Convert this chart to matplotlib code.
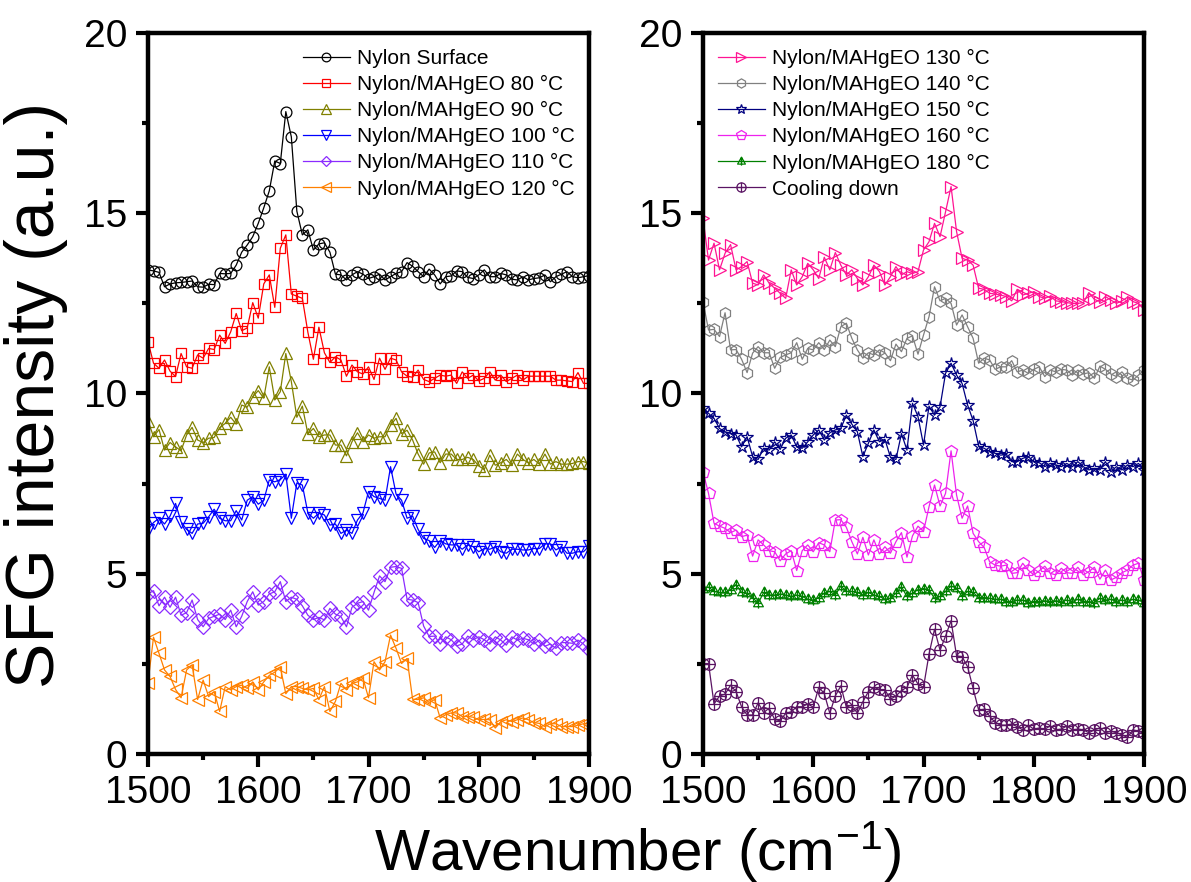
import matplotlib
matplotlib.use("Agg")
import matplotlib.pyplot as plt
from matplotlib.path import Path
from matplotlib.ticker import MultipleLocator

plt.rcParams['font.family'] = ['Liberation Sans', 'DejaVu Sans']
plt.rcParams['mathtext.default'] = 'regular'

wavenumber = list(range(1500, 1905, 5))

nylon_surface = [13.43, 13.40, 13.36, 12.96, 13.04, 13.07, 13.08, 13.10, 13.12, 12.96,
                 12.95, 13.03, 13.02, 13.33, 13.32, 13.33, 13.56, 13.92, 14.12, 14.35,
                 14.72, 15.15, 15.62, 16.45, 16.38, 17.82, 17.12, 15.06, 14.40, 14.54,
                 13.98, 14.15, 14.18, 13.92, 13.31, 13.29, 13.15, 13.29, 13.38, 13.31,
                 13.19, 13.24, 13.31, 13.15, 13.24, 13.33, 13.38, 13.63, 13.53, 13.38,
                 13.24, 13.45, 13.29, 13.04, 13.24, 13.26, 13.40, 13.38, 13.22, 13.19,
                 13.29, 13.43, 13.24, 13.24, 13.33, 13.29, 13.17, 13.15, 13.24, 13.15,
                 13.19, 13.21, 13.29, 13.10, 13.24, 13.31, 13.38, 13.24, 13.21, 13.24,
                 13.27]
t80 = [11.44, 10.84, 10.70, 10.93, 10.62, 10.47, 11.11, 10.74, 10.70, 11.07,
       10.98, 11.25, 11.22, 11.62, 11.39, 11.71, 12.22, 11.74, 11.82, 12.52,
       12.09, 13.04, 13.29, 12.39, 14.03, 14.40, 12.76, 12.70, 12.64, 11.70,
       10.95, 11.84, 11.13, 10.86, 11.02, 10.93, 10.48, 10.79, 10.60, 10.54,
       10.74, 10.39, 10.98, 10.67, 10.98, 10.93, 10.60, 10.48, 10.45, 10.65,
       10.39, 10.33, 10.42, 10.51, 10.48, 10.51, 10.28, 10.60, 10.42, 10.51,
       10.35, 10.42, 10.60, 10.37, 10.51, 10.33, 10.42, 10.51, 10.37, 10.48,
       10.48, 10.48, 10.48, 10.48, 10.37, 10.37, 10.35, 10.33, 10.58, 10.28,
       10.28]
t90 = [9.25, 8.80, 9.00, 8.43, 8.64, 8.52, 8.41, 8.85, 9.06, 8.71,
       8.64, 8.76, 8.78, 9.05, 9.17, 9.34, 9.15, 9.68, 9.62, 9.91,
       10.08, 9.87, 10.74, 9.82, 10.05, 11.11, 10.33, 9.34, 9.65, 8.88,
       9.03, 8.80, 8.85, 8.85, 8.57, 8.57, 8.27, 8.66, 8.91, 8.66,
       8.85, 8.76, 8.80, 8.80, 9.12, 9.31, 8.89, 8.98, 8.71, 8.32,
       8.04, 8.35, 8.38, 8.08, 8.32, 8.32, 8.17, 8.17, 8.23, 8.17,
       7.99, 7.89, 8.29, 8.01, 8.08, 8.17, 8.01, 8.32, 8.17, 8.08,
       8.17, 8.04, 8.32, 8.04, 8.11, 8.04, 8.04, 8.06, 8.11, 8.11,
       8.06]
t100 = [6.21, 6.42, 6.54, 6.38, 6.60, 6.95, 6.44, 6.23, 6.12, 6.38,
        6.40, 6.58, 6.79, 6.54, 6.47, 6.47, 6.75, 6.49, 7.04, 7.14,
        6.93, 7.04, 7.60, 7.55, 7.61, 7.76, 6.54, 7.52, 7.46, 6.69,
        6.54, 6.68, 6.63, 6.35, 6.38, 6.12, 6.21, 6.12, 6.49, 6.69,
        7.28, 7.14, 7.09, 7.04, 7.97, 7.21, 7.04, 6.54, 6.60, 6.23,
        5.98, 5.92, 5.73, 5.92, 5.83, 5.80, 5.80, 5.68, 5.80, 5.75,
        5.61, 5.70, 5.68, 5.75, 5.61, 5.57, 5.68, 5.68, 5.66, 5.66,
        5.70, 5.70, 5.83, 5.83, 5.66, 5.75, 5.57, 5.57, 5.61, 5.61,
        5.77]
t110 = [4.44, 4.53, 4.11, 4.35, 4.07, 4.35, 3.85, 3.92, 4.27, 3.73,
        3.53, 3.76, 3.82, 3.88, 3.73, 3.99, 3.53, 3.82, 4.23, 4.50,
        4.13, 4.23, 4.44, 4.50, 4.78, 4.23, 4.35, 4.29, 4.11, 3.85,
        3.73, 3.79, 3.72, 4.04, 3.88, 3.81, 3.53, 4.07, 4.18, 4.23,
        3.99, 4.48, 4.94, 4.78, 5.18, 5.20, 5.15, 4.29, 4.27, 4.20,
        3.55, 3.26, 3.27, 3.05, 3.25, 3.17, 3.00, 3.05, 3.27, 3.17,
        3.25, 3.17, 3.05, 3.25, 3.16, 3.02, 3.25, 3.16, 3.21, 3.17,
        3.05, 3.16, 2.99, 3.05, 2.93, 3.09, 3.09, 3.07, 3.16, 3.05,
        2.88]
t120 = [1.98, 3.24, 2.79, 2.33, 2.15, 1.79, 1.56, 2.33, 2.47, 1.51,
        2.05, 1.59, 1.73, 1.18, 1.87, 1.78, 1.87, 1.91, 1.82, 2.00,
        1.78, 2.00, 2.18, 2.27, 2.41, 1.67, 1.87, 1.87, 1.82, 1.78,
        1.82, 1.51, 1.87, 1.18, 1.46, 1.96, 1.78, 1.96, 2.00, 2.10,
        1.56, 2.56, 2.33, 2.56, 3.30, 2.93, 2.51, 2.65, 1.52, 1.51,
        1.56, 1.43, 1.51, 1.00, 1.09, 1.14, 1.14, 1.04, 1.04, 1.02,
        0.95, 0.96, 0.95, 0.72, 0.90, 0.95, 0.90, 0.95, 1.00, 0.95,
        0.87, 0.85, 0.76, 0.84, 0.84, 0.76, 0.76, 0.76, 0.80, 0.84,
        0.84]
t130 = [14.86, 13.70, 14.17, 13.43, 13.89, 14.13, 13.43, 13.52, 13.66, 13.06,
        13.01, 13.29, 13.06, 12.92, 12.78, 12.64, 13.43, 13.01, 13.24, 13.61,
        13.43, 13.19, 13.78, 13.43, 13.91, 13.56, 13.29, 13.43, 13.19, 13.01,
        13.24, 13.56, 13.38, 13.01, 13.24, 13.52, 13.29, 13.38, 13.33, 13.38,
        13.98, 14.21, 14.72, 14.35, 15.04, 15.74, 14.49, 13.75, 13.70, 13.56,
        12.92, 12.89, 12.78, 12.76, 12.73, 12.69, 12.57, 12.89, 12.73, 12.78,
        12.82, 12.69, 12.64, 12.70, 12.57, 12.55, 12.52, 12.50, 12.50, 12.52,
        12.80, 12.61, 12.55, 12.69, 12.59, 12.50, 12.57, 12.67, 12.55, 12.50,
        12.33]
t140 = [12.55, 11.76, 11.78, 11.58, 12.24, 11.21, 11.22, 10.95, 10.58, 11.12,
        11.30, 11.13, 11.13, 10.70, 11.00, 11.07, 11.13, 11.41, 10.95, 11.25,
        11.21, 11.41, 11.22, 11.48, 11.30, 11.85, 11.95, 11.53, 11.21, 10.98,
        11.13, 11.07, 11.21, 11.13, 10.91, 11.37, 11.16, 11.53, 11.60, 11.09,
        11.62, 12.13, 12.96, 12.57, 12.64, 12.50, 11.90, 12.18, 11.85, 11.53,
        10.84, 10.98, 10.93, 10.67, 10.74, 10.74, 10.91, 10.60, 10.65, 10.56,
        10.67, 10.74, 10.47, 10.65, 10.60, 10.67, 10.65, 10.51, 10.65, 10.54,
        10.58, 10.42, 10.76, 10.67, 10.54, 10.47, 10.60, 10.42, 10.37, 10.51,
        10.65]
t150 = [9.59, 9.45, 9.31, 9.03, 8.94, 8.89, 8.85, 8.52, 8.80, 8.25,
        8.17, 8.48, 8.43, 8.66, 8.45, 8.76, 8.85, 8.52, 8.48, 8.66,
        8.85, 8.99, 8.71, 8.91, 8.99, 9.03, 9.40, 9.15, 8.94, 8.25,
        8.62, 8.99, 8.66, 8.73, 8.23, 8.17, 8.89, 8.43, 9.73, 9.36,
        8.57, 9.65, 9.40, 9.63, 10.56, 10.84, 10.51, 10.28, 9.68, 9.25,
        8.54, 8.48, 8.39, 8.34, 8.29, 8.31, 8.11, 8.11, 8.20, 8.25,
        8.11, 8.08, 7.97, 8.06, 8.02, 7.97, 8.06, 7.97, 8.11, 7.97,
        7.88, 7.92, 7.88, 8.11, 7.83, 7.97, 7.88, 8.02, 7.97, 8.06,
        7.88]
t160 = [7.83, 7.23, 6.40, 6.32, 6.26, 6.14, 6.21, 6.03, 6.07, 5.49,
        5.94, 5.80, 5.64, 5.61, 5.36, 5.55, 5.64, 5.09, 5.64, 5.80,
        5.61, 5.86, 5.80, 5.61, 6.49, 6.50, 6.29, 5.89, 5.55, 6.01,
        5.52, 5.94, 5.55, 5.75, 5.57, 5.89, 6.14, 5.46, 6.05, 6.32,
        6.17, 6.86, 7.46, 6.88, 7.23, 8.41, 7.18, 6.54, 6.88, 6.12,
        5.89, 5.73, 5.33, 5.24, 5.21, 5.24, 5.01, 5.03, 5.29, 5.10,
        4.97, 5.08, 5.21, 5.01, 4.97, 5.15, 5.03, 5.01, 5.18, 4.97,
        5.06, 5.18, 4.85, 5.10, 4.83, 4.90, 5.03, 5.10, 5.24, 5.29,
        4.83]
t180 = [4.59, 4.63, 4.51, 4.48, 4.48, 4.56, 4.70, 4.48, 4.46, 4.34,
        4.18, 4.48, 4.41, 4.41, 4.44, 4.41, 4.37, 4.41, 4.37, 4.29,
        4.27, 4.34, 4.46, 4.51, 4.41, 4.66, 4.51, 4.51, 4.48, 4.41,
        4.48, 4.41, 4.37, 4.29, 4.32, 4.46, 4.64, 4.37, 4.46, 4.56,
        4.59, 4.55, 4.32, 4.37, 4.51, 4.66, 4.60, 4.37, 4.51, 4.48,
        4.34, 4.34, 4.32, 4.29, 4.29, 4.23, 4.23, 4.27, 4.27, 4.20,
        4.23, 4.23, 4.25, 4.23, 4.25, 4.23, 4.27, 4.23, 4.29, 4.23,
        4.23, 4.20, 4.32, 4.27, 4.29, 4.23, 4.27, 4.23, 4.29, 4.27,
        4.20]
cooling = [2.51, 2.51, 1.39, 1.61, 1.66, 1.91, 1.73, 1.31, 1.08, 1.08,
           1.42, 1.15, 1.27, 0.96, 0.92, 1.13, 1.17, 1.31, 1.31, 1.39,
           1.30, 1.85, 1.68, 1.13, 1.61, 1.89, 1.30, 1.36, 1.13, 1.45,
           1.73, 1.85, 1.79, 1.78, 1.52, 1.61, 1.76, 1.85, 2.19, 1.94,
           1.85, 2.77, 3.46, 2.88, 3.27, 3.70, 2.72, 2.70, 2.42, 1.82,
           1.22, 1.24, 1.05, 0.87, 0.80, 0.80, 0.83, 0.76, 0.67, 0.80,
           0.69, 0.72, 0.69, 0.78, 0.67, 0.69, 0.78, 0.67, 0.69, 0.67,
           0.59, 0.67, 0.72, 0.59, 0.63, 0.59, 0.53, 0.46, 0.67, 0.63,
           0.57]

left_labels = ['Nylon Surface', 'Nylon/MAHgEO 80 °C', 'Nylon/MAHgEO 90 °C',
               'Nylon/MAHgEO 100 °C', 'Nylon/MAHgEO 110 °C', 'Nylon/MAHgEO 120 °C']
right_labels = ['Nylon/MAHgEO 130 °C', 'Nylon/MAHgEO 140 °C', 'Nylon/MAHgEO 150 °C',
                'Nylon/MAHgEO 160 °C', 'Nylon/MAHgEO 180 °C', 'Cooling down']

# custom markers
cross = Path([[-1, 0], [1, 0], [0, -1], [0, 1]],
             [Path.MOVETO, Path.LINETO, Path.MOVETO, Path.LINETO])
circ_plus = Path.make_compound_path(Path.unit_circle(), cross)
tri = Path([[0, 1], [-0.9, -0.6], [0.9, -0.6], [0, 1]],
           [Path.MOVETO, Path.LINETO, Path.LINETO, Path.CLOSEPOLY])
tcross = Path([[0, 1], [0, -0.95], [-0.45, 0.0], [0.45, 0.0]],
              [Path.MOVETO, Path.LINETO, Path.MOVETO, Path.LINETO])
tri_plus = Path.make_compound_path(tri, tcross)

left_series = [
    (nylon_surface, '#000000', 'o', 7.8),
    (t80, '#FF0000', 's', 7.3),
    (t90, '#808000', '^', 8.8),
    (t100, '#0000FF', 'v', 8.8),
    (t110, '#8B2BFF', 'D', 6.8),
    (t120, '#FF8000', '<', 8.8),
]
right_series = [
    (t130, '#FF1493', '>', 8.8),
    (t140, '#808080', 'h', 8.3),
    (t150, '#000080', '*', 9.3),
    (t160, '#EE22EE', 'p', 8.8),
    (t180, '#008000', tri_plus, 7.8),
    (cooling, '#5A1463', circ_plus, 8.3),
]

fig = plt.figure(figsize=(11.91, 8.82), dpi=100)
W, H = 1191, 882
ax1 = fig.add_axes([148 / W, (H - 754) / H, 441 / W, 721 / H])
ax2 = fig.add_axes([703 / W, (H - 754) / H, 441 / W, 721 / H])

for ax, series, labels in ((ax1, left_series, left_labels), (ax2, right_series, right_labels)):
    for (vals, col, mk, ms), lab in zip(series, labels):
        ax.plot(wavenumber, vals, color=col, lw=0.9, marker=mk, ms=ms,
                mfc='none', mec=col, mew=0.9, label=lab)
    ax.set_xlim(1500, 1900)
    ax.set_ylim(0, 20)
    ax.xaxis.set_major_locator(MultipleLocator(100))
    ax.xaxis.set_minor_locator(MultipleLocator(50))
    ax.yaxis.set_major_locator(MultipleLocator(5))
    ax.yaxis.set_minor_locator(MultipleLocator(2.5))
    for sp in ax.spines.values():
        sp.set_linewidth(3.2)
    ax.tick_params(which='both', direction='out', top=False, right=False,
                   width=3.0, labelsize=28, pad=6)
    ax.tick_params(which='major', length=9)
    ax.tick_params(which='minor', length=4.5)
    leg_x = 0.351 if ax is ax1 else 0.034
    ax.legend(loc='upper left', bbox_to_anchor=(leg_x, 0.978), frameon=False,
              fontsize=15, borderpad=0, borderaxespad=0, labelspacing=0.34,
              handlelength=2.25, handletextpad=0.35, markerscale=0.8)

fig.text(0.03, 0.552, 'SFG intensity (a.u.)', rotation=90, fontsize=49,
         ha='center', va='center')
fig.text(0.535, 0.035, 'Wavenumber (cm$^{-1}$)', fontsize=42,
         ha='center', va='center')

fig.savefig('out.png', dpi=100)
